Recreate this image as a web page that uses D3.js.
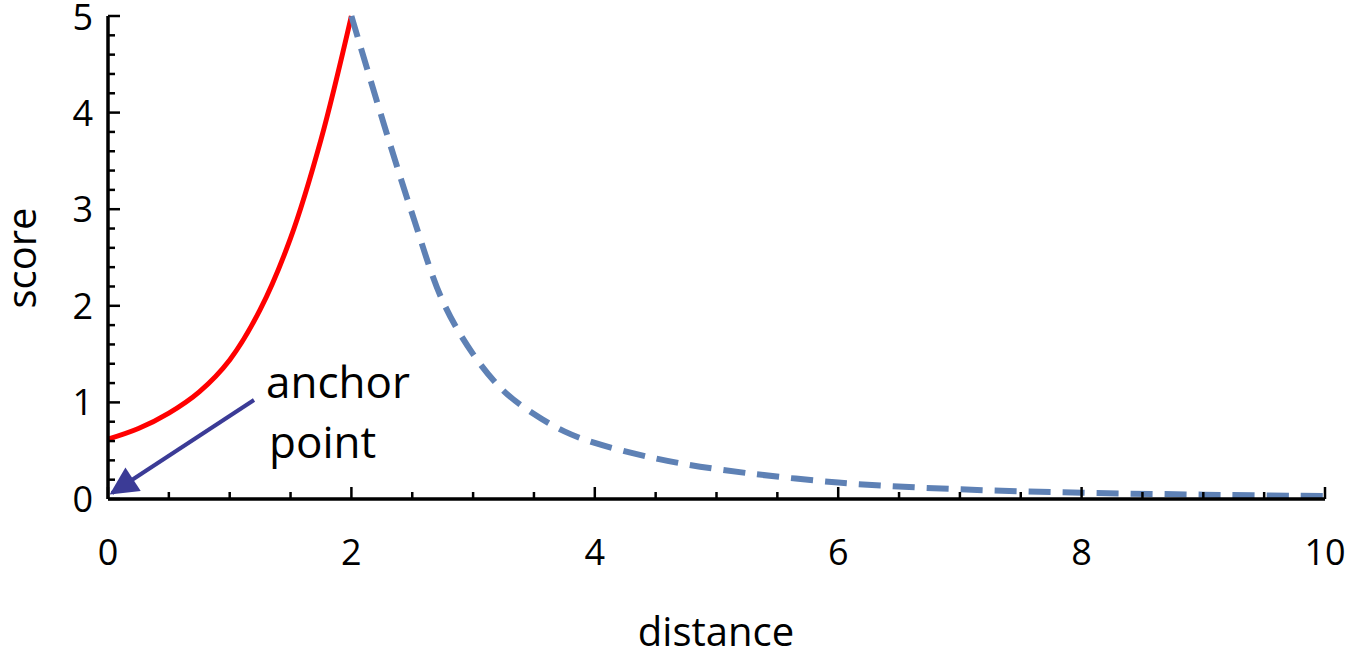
<!DOCTYPE html>
<html><head><meta charset="utf-8">
<script src="https://cdn.jsdelivr.net/npm/d3@7"></script>
<style>body{margin:0;background:#fff}text{font-family:"Open Sans",sans-serif;fill:#000}</style>
</head><body><svg id="c" width="1345" height="662"></svg>
<script>
const redX = [0, 0.25, 0.5, 0.75, 1, 1.25, 1.5, 1.75, 2];
const redY = [0.62, 0.73, 0.89, 1.11, 1.44, 1.96, 2.7, 3.72, 5];
const blueX = [2, 2.25, 2.5, 2.75, 3, 3.25, 3.5, 3.75, 4, 4.5, 5, 6, 7, 8, 9, 10];
const blueY = [5, 3.95, 2.95, 2.05, 1.5, 1.12, 0.88, 0.7, 0.58, 0.42, 0.31, 0.17, 0.1, 0.065, 0.045, 0.03];
const xTicks = [0, 2, 4, 6, 8, 10];
const yTicks = [0, 1, 2, 3, 4, 5];

const svg = d3.select("#c");
const x = d3.scaleLinear().domain([0, 10]).range([108, 1325]);
const y = d3.scaleLinear().domain([0, 5]).range([499, 16]);

const line = d3.line().x(d => x(d[0])).y(d => y(d[1])).curve(d3.curveCatmullRom.alpha(0.5));
svg.append("path").datum(redX.map((v, i) => [v, redY[i]])).attr("d", line)
  .attr("fill", "none").attr("stroke", "#ff0000").attr("stroke-width", 5);
svg.append("path").datum(blueX.map((v, i) => [v, blueY[i]])).attr("d", line)
  .attr("fill", "none").attr("stroke", "#5e81b5").attr("stroke-width", 6).attr("stroke-dasharray", "22,12");

const ax = svg.append("g").attr("stroke", "#000");
ax.append("line").attr("x1", x(0)).attr("x2", x(10)).attr("y1", y(0)).attr("y2", y(0)).attr("stroke-width", 3.5);
ax.append("line").attr("x1", x(0)).attr("x2", x(0)).attr("y1", y(0)).attr("y2", y(5)).attr("stroke-width", 3.5);
d3.range(0, 10.01, 0.5).forEach(v => {
  const major = Math.abs(v - Math.round(v / 2) * 2) < 1e-6;
  ax.append("line").attr("x1", x(v)).attr("x2", x(v)).attr("y1", y(0)).attr("y2", y(0) - (major ? 12 : 7)).attr("stroke-width", 2.5);
});
d3.range(0, 5.01, 0.2).forEach(v => {
  const major = Math.abs(v - Math.round(v)) < 1e-6;
  ax.append("line").attr("x1", x(0)).attr("x2", x(0) + (major ? 12 : 7)).attr("y1", y(v)).attr("y2", y(v)).attr("stroke-width", 2.5);
});
svg.selectAll(".xt").data(xTicks).enter().append("text").attr("x", d => x(d)).attr("y", 565)
  .attr("text-anchor", "middle").attr("font-size", 36).text(d => d);
svg.selectAll(".yt").data(yTicks).enter().append("text").attr("x", 93).attr("y", d => Math.max(y(d) + 13, 30))
  .attr("text-anchor", "end").attr("font-size", 36).text(d => d);
svg.append("text").attr("x", 716).attr("y", 646).attr("text-anchor", "middle").attr("font-size", 40).text("distance");
svg.append("text").attr("transform", "translate(36,258) rotate(-90)").attr("text-anchor", "middle").attr("font-size", 40).text("score");

const defs = svg.append("defs");
defs.append("marker").attr("id", "ah").attr("viewBox", "0 0 10 10").attr("refX", 9).attr("refY", 5)
  .attr("markerWidth", 9).attr("markerHeight", 7).attr("orient", "auto").attr("markerUnits", "strokeWidth")
  .append("path").attr("d", "M0,0 L10,5 L0,10 Z").attr("fill", "#3b3b96");
svg.append("line").attr("x1", 254).attr("y1", 400).attr("x2", 112).attr("y2", 493)
  .attr("stroke", "#3b3b96").attr("stroke-width", 4).attr("marker-end", "url(#ah)");
svg.append("text").attr("x", 266).attr("y", 398).attr("font-size", 44).text("anchor");
svg.append("text").attr("x", 269).attr("y", 458).attr("font-size", 44).text("point");
</script></body></html>
